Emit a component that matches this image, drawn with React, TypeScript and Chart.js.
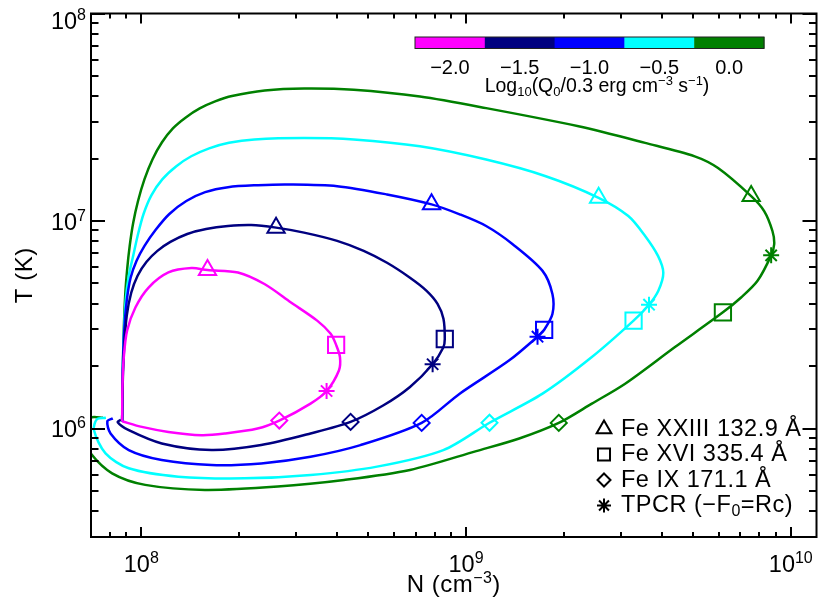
import React, { useEffect, useRef } from 'react';
import { Chart, registerables } from 'chart.js';

Chart.register(...registerables);

const FONT = '"Liberation Sans", Arial, Helvetica, sans-serif';

// Colour bar: log10(Q0 / 0.3 erg cm^-3 s^-1)
const Q_LABELS = ['−2.0', '−1.5', '−1.0', '−0.5', '0.0'];
const Q_COLORS = ['#ff00ff', '#000080', '#0000ff', '#00ffff', '#008000'];

// Axis ranges and ticks
const X_MIN = 7e7;
const X_MAX = 1.2e10;
const Y_MIN = 3e5;
const Y_MAX = 1e8;
const X_MAJOR = [1e8, 1e9, 1e10];
const X_MAJOR_EXP = ['8', '9', '10'];
const X_MINOR = [8e7, 9e7, 2e8, 3e8, 4e8, 5e8, 6e8, 7e8, 8e8, 9e8, 2e9, 3e9, 4e9, 5e9, 6e9, 7e9, 8e9, 9e9];
const Y_MAJOR = [1e6, 1e7, 1e8];
const Y_MAJOR_EXP = ['6', '7', '8'];
const Y_MINOR = [4e5, 5e5, 6e5, 7e5, 8e5, 9e5, 2e6, 3e6, 4e6, 5e6, 6e6, 7e6, 8e6, 9e6, 2e7, 3e7, 4e7, 5e7, 6e7, 7e7, 8e7, 9e7];

// Q0 = -2.0 (magenta)
const N_Q20 = [8.73e7, 8.75e7, 8.83e7, 9.04e7, 9.59e7, 1.053e8, 1.212e8, 1.428e8, 1.599e8, 1.985e8, 2.394e8, 2.89e8, 3.48e8, 3.83e8, 3.98e8, 4.09e8, 4.06e8, 3.72e8, 3.32e8, 2.66e8, 2.28e8, 1.806e8, 1.532e8, 1.212e8, 1.004e8, 8.73e7];
const T_Q20 = [1.084e6, 1.6e6, 2.2e6, 2.96e6, 3.83e6, 4.78e6, 5.65e6, 5.93e6, 5.8e6, 5.65e6, 4.97e6, 4.05e6, 3.31e6, 2.86e6, 2.53e6, 2.21e6, 1.905e6, 1.516e6, 1.318e6, 1.092e6, 1.0e6, 9.46e5, 9.29e5, 9.63e5, 1.018e6, 1.084e6];

// Q0 = -1.5 (navy)
const N_Q15 = [8.73e7, 8.77e7, 8.86e7, 9.02e7, 9.31e7, 9.74e7, 1.038e8, 1.121e8, 1.229e8, 1.385e8, 1.583e8, 1.849e8, 2.18e8, 2.6e8, 3.17e8, 4.01e8, 4.84e8, 5.71e8, 6.72e8, 7.56e8, 8.17e8, 8.52e8, 8.6e8, 8.51e8, 7.89e8, 6.72e8, 5.57e8, 4.41e8, 3.32e8, 2.34e8, 1.644e8, 1.156e8, 9.15e7, 8.46e7, 8.65e7];
const T_Q15 = [1.084e6, 1.706e6, 2.51e6, 3.5e6, 4.51e6, 5.45e6, 6.36e6, 7.18e6, 7.93e6, 8.66e6, 9.15e6, 9.46e6, 9.57e6, 9.29e6, 8.79e6, 8.02e6, 7.18e6, 6.29e6, 5.33e6, 4.61e6, 3.99e6, 3.38e6, 2.7e6, 2.456e6, 2.04e6, 1.585e6, 1.294e6, 1.076e6, 9.46e5, 8.32e5, 7.87e5, 8.47e5, 9.81e5, 1.072e6, 1.103e6];

// Q0 = -1.0 (blue)
const N_Q10 = [8.73e7, 8.77e7, 8.86e7, 9.02e7, 9.27e7, 9.67e7, 1.023e8, 1.106e8, 1.22e8, 1.376e8, 1.573e8, 1.849e8, 2.284e8, 2.82e8, 4.01e8, 5.71e8, 7.83e8, 9.56e8, 1.153e9, 1.392e9, 1.72e9, 1.845e9, 1.845e9, 1.74e9, 1.66e9, 1.359e9, 9.56e8, 7.3e8, 4.73e8, 3.32e8, 2.34e8, 1.644e8, 1.156e8, 9.15e7, 8.04e7, 7.86e7, 8.17e7];
const T_Q10 = [1.084e6, 1.905e6, 2.96e6, 4.13e6, 5.33e6, 6.43e6, 7.59e6, 9.05e6, 1.081e7, 1.248e7, 1.378e7, 1.456e7, 1.488e7, 1.5e7, 1.472e7, 1.343e7, 1.203e7, 1.077e7, 9.46e6, 7.73e6, 5.75e6, 4.45e6, 3.56e6, 2.99e6, 2.77e6, 2.13e6, 1.472e6, 1.064e6, 8.32e5, 7.31e5, 6.79e5, 6.67e5, 7.05e5, 7.87e5, 9.46e5, 1.084e6, 1.12e6];

// Q0 = -0.5 (cyan)
const N_Q05 = [8.73e7, 8.77e7, 8.83e7, 8.95e7, 9.15e7, 9.44e7, 9.74e7, 1.016e8, 1.075e8, 1.162e8, 1.282e8, 1.425e8, 1.618e8, 1.862e8, 2.23e8, 3.17e8, 4.51e8, 7.21e8, 1.153e9, 1.76e9, 2.56e9, 3.16e9, 3.56e9, 3.9e9, 4.05e9, 3.91e9, 3.66e9, 3.28e9, 2.44e9, 1.72e9, 1.181e9, 8.51e8, 5.32e8, 3.32e8, 2.08e8, 1.3e8, 9.15e7, 7.76e7, 7.15e7, 7.3e7, 7.78e7];
const T_Q05 = [1.084e6, 1.905e6, 2.805e6, 4.13e6, 5.45e6, 6.79e6, 8.47e6, 1.081e7, 1.333e7, 1.591e7, 1.837e7, 2.051e7, 2.24e7, 2.382e7, 2.47e7, 2.51e7, 2.47e7, 2.29e7, 1.977e7, 1.644e7, 1.294e7, 1.057e7, 8.47e6, 6.79e6, 5.63e6, 4.61e6, 3.95e6, 3.31e6, 2.21e6, 1.472e6, 1.066e6, 7.87e5, 6.55e5, 5.97e5, 5.75e5, 5.86e5, 6.43e5, 7.59e5, 9.81e5, 1.108e6, 1.127e6];

// Q0 = 0.0 (green)
const N_Q00 = [8.73e7, 8.77e7, 8.83e7, 8.92e7, 9.05e7, 9.21e7, 9.44e7, 9.77e7, 1.023e8, 1.083e8, 1.158e8, 1.251e8, 1.371e8, 1.513e8, 1.688e8, 1.902e8, 2.4e8, 3.17e8, 4.51e8, 7.21e8, 1.153e9, 2.22e9, 3.56e9, 5.06e9, 5.97e9, 7.55e9, 8.28e9, 8.78e9, 8.89e9, 8.7e9, 7.9e9, 7.03e9, 6.18e9, 4.4e9, 3.09e9, 2.44e9, 1.93e9, 1.458e9, 1.075e9, 6.72e8, 4.21e8, 2.63e8, 1.57e8, 1.028e8, 8.13e7, 6.98e7, 6.57e7, 6.66e7, 7.05e7, 7.62e7];
const T_Q00 = [1.084e6, 1.905e6, 2.96e6, 4.37e6, 5.89e6, 7.59e6, 9.78e6, 1.248e7, 1.591e7, 1.985e7, 2.395e7, 2.796e7, 3.157e7, 3.488e7, 3.77e7, 4.005e7, 4.256e7, 4.35e7, 4.29e7, 3.98e7, 3.5e7, 2.86e7, 2.38e7, 2.05e7, 1.8e7, 1.318e7, 1.117e7, 8.95e6, 7.73e6, 6.83e6, 5.15e6, 4.28e6, 3.63e6, 2.47e6, 1.644e6, 1.318e6, 1.064e6, 8.95e5, 7.78e5, 6.31e5, 5.65e5, 5.25e5, 5.06e5, 5.35e5, 6.08e5, 7.59e5, 9.29e5, 1.084e6, 1.133e6, 1.127e6];

// Line diagnostics markers (one per Q0, order -2.0 .. 0.0)
const TRI_N = [1.599e8, 2.6e8, 7.83e8, 2.56e9, 7.55e9];
const TRI_T = [5.8e6, 9.29e6, 1.203e7, 1.294e7, 1.318e7];
const SQ_N = [3.98e8, 8.6e8, 1.74e9, 3.28e9, 6.18e9];
const SQ_T = [2.53e6, 2.7e6, 2.99e6, 3.31e6, 3.63e6];
const DIA_N = [2.66e8, 4.41e8, 7.3e8, 1.181e9, 1.93e9];
const DIA_T = [1.092e6, 1.076e6, 1.064e6, 1.066e6, 1.064e6];
const AST_N = [3.72e8, 7.89e8, 1.66e9, 3.66e9, 8.7e9];
const AST_T = [1.516e6, 2.04e6, 2.77e6, 3.95e6, 6.83e6];

const LEGEND_STYLES = ['triangle', 'rect', 'rectRot', 'star'];
const LEGEND_LABELS = ['Fe XXIII 132.9 Å', 'Fe XVI 335.4 Å', 'Fe IX 171.1 Å', 'TPCR (−F'];

const CURVES = [
  [N_Q20, T_Q20],
  [N_Q15, T_Q15],
  [N_Q10, T_Q10],
  [N_Q05, T_Q05],
  [N_Q00, T_Q00],
];

type Part = { t: string; s: number; dy: number };

function drawRich(ctx: any, parts: Part[], x: number, y: number, align: string, spacing = 0) {
  ctx.letterSpacing = `${spacing}px`;
  let w = 0;
  for (const p of parts) {
    ctx.font = `${p.s}px ${FONT}`;
    w += ctx.measureText(p.t).width;
  }
  let cx = align === 'left' ? x : align === 'center' ? x - w / 2 : x - w;
  ctx.textAlign = 'left';
  ctx.textBaseline = 'alphabetic';
  for (const p of parts) {
    ctx.font = `${p.s}px ${FONT}`;
    ctx.fillText(p.t, cx, y + p.dy);
    cx += ctx.measureText(p.t).width;
  }
  ctx.letterSpacing = '0px';
}

function drawSymbol(ctx: CanvasRenderingContext2D, style: string, x: number, y: number, r: number) {
  ctx.beginPath();
  if (style === 'triangle') {
    ctx.moveTo(x, y - r);
    ctx.lineTo(x + r * Math.sin((2 * Math.PI) / 3), y + r / 2);
    ctx.lineTo(x - r * Math.sin((2 * Math.PI) / 3), y + r / 2);
    ctx.closePath();
  } else if (style === 'rect') {
    const s = r * Math.SQRT1_2;
    ctx.rect(x - s, y - s, 2 * s, 2 * s);
  } else if (style === 'rectRot') {
    ctx.moveTo(x, y - r);
    ctx.lineTo(x + r, y);
    ctx.lineTo(x, y + r);
    ctx.lineTo(x - r, y);
    ctx.closePath();
  } else {
    for (let k = 0; k < 4; k++) {
      const a = (k * Math.PI) / 4;
      ctx.moveTo(x - r * Math.cos(a), y - r * Math.sin(a));
      ctx.lineTo(x + r * Math.cos(a), y + r * Math.sin(a));
    }
  }
  ctx.stroke();
}

const decorPlugin = {
  id: 'decor',
  afterDatasetsDraw(chart: any) {
    const { ctx, chartArea: a, scales } = chart;
    const xs = scales.x;
    const ys = scales.y;
    ctx.save();
    ctx.strokeStyle = '#000';
    ctx.fillStyle = '#000';
    ctx.lineWidth = 2;
    ctx.lineCap = 'butt';

    const xTicks = (vals: number[], len: number) => {
      for (const v of vals) {
        const px = Math.round(xs.getPixelForValue(v));
        ctx.beginPath();
        ctx.moveTo(px, a.bottom);
        ctx.lineTo(px, a.bottom - len);
        ctx.moveTo(px, a.top);
        ctx.lineTo(px, a.top + len);
        ctx.stroke();
      }
    };
    const yTicks = (vals: number[], len: number) => {
      for (const v of vals) {
        const py = Math.round(ys.getPixelForValue(v));
        ctx.beginPath();
        ctx.moveTo(a.left, py);
        ctx.lineTo(a.left + len, py);
        ctx.moveTo(a.right, py);
        ctx.lineTo(a.right - len, py);
        ctx.stroke();
      }
    };
    xTicks(X_MAJOR, 10);
    xTicks(X_MINOR, 5);
    yTicks(Y_MAJOR, 14);
    yTicks(Y_MINOR, 7.5);
    ctx.strokeRect(a.left, a.top, a.right - a.left, a.bottom - a.top);

    // tick labels
    X_MAJOR.forEach((v, i) => {
      const px = xs.getPixelForValue(v);
      drawRich(ctx, [{ t: '10', s: 23.5, dy: 0 }, { t: X_MAJOR_EXP[i], s: 16, dy: -9 }], px, 572, 'center');
    });
    Y_MAJOR.forEach((v, i) => {
      const py = Math.max(ys.getPixelForValue(v), a.top + 7);
      drawRich(ctx, [{ t: '10', s: 23.5, dy: 0 }, { t: Y_MAJOR_EXP[i], s: 16, dy: -9 }], 86, py + 8.5, 'right');
    });

    // axis titles
    drawRich(ctx, [{ t: 'N (cm', s: 24, dy: 0 }, { t: '−3', s: 16, dy: -9 }, { t: ')', s: 24, dy: 0 }], (a.left + a.right) / 2, 592, 'center', 0.5);
    ctx.save();
    ctx.translate(31.5, (a.top + a.bottom) / 2);
    ctx.rotate(-Math.PI / 2);
    drawRich(ctx, [{ t: 'T (K)', s: 24, dy: 0 }], 0, 0, 'center', 0.5);
    ctx.restore();

    // colour bar
    const cbL = 415, cbR = 764, cbT = 37, cbH = 11.5;
    const seg = (cbR - cbL) / Q_COLORS.length;
    Q_COLORS.forEach((c, i) => {
      ctx.fillStyle = c;
      ctx.fillRect(cbL + i * seg, cbT, seg + 0.5, cbH);
    });
    ctx.lineWidth = 1;
    ctx.strokeStyle = '#222';
    ctx.strokeRect(cbL, cbT, cbR - cbL, cbH);
    ctx.fillStyle = '#000';
    Q_LABELS.forEach((l, i) => {
      drawRich(ctx, [{ t: l, s: 20, dy: 0 }], cbL + (i + 0.5) * seg, 73.5, 'center');
    });
    drawRich(
      ctx,
      [
        { t: 'Log', s: 19.5, dy: 0 },
        { t: '10', s: 13, dy: 4 },
        { t: '(Q', s: 19.5, dy: 0 },
        { t: '0', s: 13, dy: 4 },
        { t: '/0.3 erg cm', s: 19.5, dy: 0 },
        { t: '−3', s: 13, dy: -7 },
        { t: ' s', s: 19.5, dy: 0 },
        { t: '−1', s: 13, dy: -7 },
        { t: ')', s: 19.5, dy: 0 },
      ],
      597,
      91.5,
      'center'
    );

    // legend
    ctx.strokeStyle = '#000';
    ctx.lineWidth = 2;
    const baselines = [435.5, 461, 486.5, 512];
    LEGEND_STYLES.forEach((st, i) => {
      const rr = st === 'triangle' ? 8.5 : st === 'rect' ? 8.5 : st === 'rectRot' ? 6.5 : 7;
      drawSymbol(ctx, st, 604, baselines[i] - 6.5, rr);
      const parts: Part[] = [{ t: LEGEND_LABELS[i], s: 23.5, dy: 0 }];
      if (i === 3) {
        parts.push({ t: '0', s: 16, dy: 4 });
        parts.push({ t: '=Rc)', s: 23.5, dy: 0 });
      }
      drawRich(ctx, parts, 621, baselines[i], 'left', 0.5);
    });

    ctx.restore();
  },
};

export default function App() {
  const ref = useRef<HTMLCanvasElement>(null);
  useEffect(() => {
    document.body.style.margin = '0';
    const zip = (n: number[], t: number[]) => n.map((v, i) => ({ x: v, y: t[i] }));
    const markerSet = (n: number[], t: number[], style: string, r: number) => ({
      data: zip(n, t),
      showLine: false,
      pointStyle: style,
      pointRadius: r,
      pointBorderWidth: 2,
      pointBorderColor: Q_COLORS,
      pointBackgroundColor: 'rgba(0,0,0,0)',
    });
    const datasets: any[] = [
      markerSet(TRI_N, TRI_T, 'triangle', 10),
      markerSet(SQ_N, SQ_T, 'rect', 11.5),
      markerSet(DIA_N, DIA_T, 'rectRot', 8),
      markerSet(AST_N, AST_T, 'star', 8),
      ...CURVES.map(([n, t], i) => ({
        data: zip(n, t),
        showLine: true,
        borderColor: Q_COLORS[i],
        borderWidth: 2.5,
        pointRadius: 0,
        tension: 0.3,
        fill: false,
      })),
    ];
    const chart = new Chart(ref.current as HTMLCanvasElement, {
      type: 'scatter',
      data: { datasets },
      options: {
        animation: false,
        responsive: false,
        devicePixelRatio: 1,
        events: [],
        layout: { padding: { left: 91, right: 8, top: 12, bottom: 67 } },
        plugins: { legend: { display: false }, tooltip: { enabled: false } },
        scales: {
          x: { type: 'logarithmic', min: X_MIN, max: X_MAX, display: false },
          y: { type: 'logarithmic', min: Y_MIN, max: Y_MAX, display: false },
        },
      },
      plugins: [decorPlugin],
    } as any);
    return () => chart.destroy();
  }, []);
  return (
    <div style={{ width: 830, height: 604 }}>
      <canvas ref={ref} width={830} height={604} style={{ display: 'block' }} />
    </div>
  );
}
